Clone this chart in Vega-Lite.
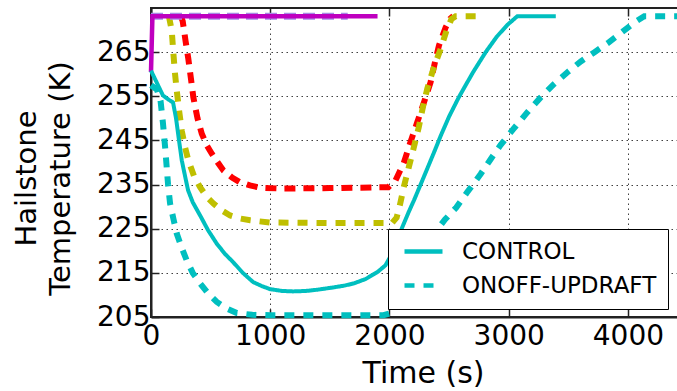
{
  "$schema": "https://vega.github.io/schema/vega-lite/v6.json",
  "width": 527,
  "height": 309,
  "autosize": "none",
  "padding": {"left": 151, "top": 8, "right": 0, "bottom": 74},
  "background": "white",
  "config": {
    "font": "DejaVu Sans",
    "view": {"stroke": "#222", "strokeWidth": 2},
    "axis": {
      "domainColor": "#222", "domainWidth": 2,
      "tickColor": "#222", "tickWidth": 1.5, "tickSize": -8,
      "labelFont": "DejaVu Sans", "labelFontSize": 28, "labelColor": "black",
      "labelFlush": false, "labelOverlap": false,
      "titleFont": "DejaVu Sans", "titleColor": "black", "titleFontWeight": "normal",
      "gridColor": "black", "gridDash": [1.5, 3.5], "gridWidth": 1, "gridOpacity": 0.75
    },
    "legend": {
      "symbolType": "stroke", "symbolSize": 1444, "symbolStrokeWidth": 4.5,
      "labelFont": "DejaVu Sans", "labelFontSize": 23, "labelColor": "black", "labelLimit": 0,
      "strokeColor": "black", "fillColor": "white", "padding": 11, "cornerRadius": 0,
      "rowPadding": 10, "clipHeight": 23, "labelOffset": 17, "symbolOffset": 3
    }
  },
  "data": {
    "values": [
      {"series": "CONTROL", "time": 0, "temp": 260.8},
      {"series": "CONTROL", "time": 50, "temp": 258},
      {"series": "CONTROL", "time": 100, "temp": 255.2},
      {"series": "CONTROL", "time": 150, "temp": 254.2},
      {"series": "CONTROL", "time": 185, "temp": 253.6},
      {"series": "CONTROL", "time": 210, "temp": 250},
      {"series": "CONTROL", "time": 235, "temp": 245},
      {"series": "CONTROL", "time": 258, "temp": 240.5},
      {"series": "CONTROL", "time": 285, "temp": 237},
      {"series": "CONTROL", "time": 311, "temp": 233.7},
      {"series": "CONTROL", "time": 350, "temp": 231},
      {"series": "CONTROL", "time": 412, "temp": 228},
      {"series": "CONTROL", "time": 480, "temp": 224.6},
      {"series": "CONTROL", "time": 552, "temp": 221.6},
      {"series": "CONTROL", "time": 620, "temp": 219.3},
      {"series": "CONTROL", "time": 690, "temp": 217.4},
      {"series": "CONTROL", "time": 770, "temp": 215},
      {"series": "CONTROL", "time": 857, "temp": 212.9},
      {"series": "CONTROL", "time": 930, "temp": 212},
      {"series": "CONTROL", "time": 1000, "temp": 211.3},
      {"series": "CONTROL", "time": 1100, "temp": 210.9},
      {"series": "CONTROL", "time": 1193, "temp": 210.8},
      {"series": "CONTROL", "time": 1300, "temp": 210.9},
      {"series": "CONTROL", "time": 1400, "temp": 211.2},
      {"series": "CONTROL", "time": 1529, "temp": 211.7},
      {"series": "CONTROL", "time": 1620, "temp": 212.1},
      {"series": "CONTROL", "time": 1700, "temp": 212.6},
      {"series": "CONTROL", "time": 1800, "temp": 213.6},
      {"series": "CONTROL", "time": 1900, "temp": 215.2},
      {"series": "CONTROL", "time": 1966, "temp": 216.7},
      {"series": "CONTROL", "time": 2010, "temp": 218.8},
      {"series": "CONTROL", "time": 2060, "temp": 222.1},
      {"series": "CONTROL", "time": 2110, "temp": 225.5},
      {"series": "CONTROL", "time": 2160, "temp": 228.7},
      {"series": "CONTROL", "time": 2205, "temp": 231.4},
      {"series": "CONTROL", "time": 2300, "temp": 237.5},
      {"series": "CONTROL", "time": 2383, "temp": 242.9},
      {"series": "CONTROL", "time": 2429, "temp": 246},
      {"series": "CONTROL", "time": 2500, "temp": 250.4},
      {"series": "CONTROL", "time": 2582, "temp": 254.8},
      {"series": "CONTROL", "time": 2700, "temp": 260.4},
      {"series": "CONTROL", "time": 2807, "temp": 265},
      {"series": "CONTROL", "time": 2900, "temp": 268.5},
      {"series": "CONTROL", "time": 2990, "temp": 271.2},
      {"series": "CONTROL", "time": 3073, "temp": 273.15},
      {"series": "CONTROL", "time": 3395, "temp": 273.15},

      {"series": "ONOFF-UPDRAFT", "time": 0, "temp": 257.5},
      {"series": "ONOFF-UPDRAFT", "time": 50, "temp": 256.5},
      {"series": "ONOFF-UPDRAFT", "time": 80, "temp": 254},
      {"series": "ONOFF-UPDRAFT", "time": 100, "temp": 249},
      {"series": "ONOFF-UPDRAFT", "time": 120, "temp": 243},
      {"series": "ONOFF-UPDRAFT", "time": 143, "temp": 235},
      {"series": "ONOFF-UPDRAFT", "time": 160, "temp": 230.7},
      {"series": "ONOFF-UPDRAFT", "time": 190, "temp": 227},
      {"series": "ONOFF-UPDRAFT", "time": 216, "temp": 223.9},
      {"series": "ONOFF-UPDRAFT", "time": 260, "temp": 220.5},
      {"series": "ONOFF-UPDRAFT", "time": 300, "temp": 217.8},
      {"series": "ONOFF-UPDRAFT", "time": 350, "temp": 215},
      {"series": "ONOFF-UPDRAFT", "time": 412, "temp": 212.6},
      {"series": "ONOFF-UPDRAFT", "time": 480, "temp": 210.3},
      {"series": "ONOFF-UPDRAFT", "time": 552, "temp": 208.4},
      {"series": "ONOFF-UPDRAFT", "time": 630, "temp": 207},
      {"series": "ONOFF-UPDRAFT", "time": 720, "temp": 205.9},
      {"series": "ONOFF-UPDRAFT", "time": 850, "temp": 205.5},
      {"series": "ONOFF-UPDRAFT", "time": 1000, "temp": 205.4},
      {"series": "ONOFF-UPDRAFT", "time": 1500, "temp": 205.4},
      {"series": "ONOFF-UPDRAFT", "time": 1950, "temp": 205.4},
      {"series": "ONOFF-UPDRAFT", "time": 2000, "temp": 205.8},
      {"series": "ONOFF-UPDRAFT", "time": 2036, "temp": 207.2},
      {"series": "ONOFF-UPDRAFT", "time": 2072, "temp": 209},
      {"series": "ONOFF-UPDRAFT", "time": 2150, "temp": 213.5},
      {"series": "ONOFF-UPDRAFT", "time": 2250, "temp": 218.5},
      {"series": "ONOFF-UPDRAFT", "time": 2350, "temp": 223},
      {"series": "ONOFF-UPDRAFT", "time": 2466, "temp": 227.1},
      {"series": "ONOFF-UPDRAFT", "time": 2560, "temp": 229.8},
      {"series": "ONOFF-UPDRAFT", "time": 2653, "temp": 233.3},
      {"series": "ONOFF-UPDRAFT", "time": 2765, "temp": 237.4},
      {"series": "ONOFF-UPDRAFT", "time": 2850, "temp": 240.8},
      {"series": "ONOFF-UPDRAFT", "time": 2933, "temp": 244},
      {"series": "ONOFF-UPDRAFT", "time": 3040, "temp": 247.6},
      {"series": "ONOFF-UPDRAFT", "time": 3157, "temp": 251.4},
      {"series": "ONOFF-UPDRAFT", "time": 3270, "temp": 254.8},
      {"series": "ONOFF-UPDRAFT", "time": 3381, "temp": 257.8},
      {"series": "ONOFF-UPDRAFT", "time": 3500, "temp": 260.6},
      {"series": "ONOFF-UPDRAFT", "time": 3605, "temp": 262.9},
      {"series": "ONOFF-UPDRAFT", "time": 3720, "temp": 265},
      {"series": "ONOFF-UPDRAFT", "time": 3829, "temp": 267},
      {"series": "ONOFF-UPDRAFT", "time": 3940, "temp": 269.3},
      {"series": "ONOFF-UPDRAFT", "time": 4053, "temp": 271.7},
      {"series": "ONOFF-UPDRAFT", "time": 4137, "temp": 273.15},
      {"series": "ONOFF-UPDRAFT", "time": 4450, "temp": 273.15},

      {"series": "r-dash", "time": 250, "temp": 273.15},
      {"series": "r-dash", "time": 266, "temp": 272},
      {"series": "r-dash", "time": 290, "temp": 267.5},
      {"series": "r-dash", "time": 313, "temp": 263.5},
      {"series": "r-dash", "time": 335, "temp": 259},
      {"series": "r-dash", "time": 355, "temp": 254.8},
      {"series": "r-dash", "time": 390, "temp": 250},
      {"series": "r-dash", "time": 426, "temp": 246.5},
      {"series": "r-dash", "time": 470, "temp": 243.8},
      {"series": "r-dash", "time": 510, "temp": 242},
      {"series": "r-dash", "time": 560, "temp": 240},
      {"series": "r-dash", "time": 607, "temp": 238.2},
      {"series": "r-dash", "time": 680, "temp": 236.6},
      {"series": "r-dash", "time": 748, "temp": 235.5},
      {"series": "r-dash", "time": 830, "temp": 234.8},
      {"series": "r-dash", "time": 916, "temp": 234.3},
      {"series": "r-dash", "time": 1084, "temp": 234.1},
      {"series": "r-dash", "time": 1500, "temp": 234.2},
      {"series": "r-dash", "time": 1990, "temp": 234.4},
      {"series": "r-dash", "time": 2050, "temp": 235.9},
      {"series": "r-dash", "time": 2120, "temp": 239.9},
      {"series": "r-dash", "time": 2176, "temp": 244.6},
      {"series": "r-dash", "time": 2233, "temp": 249.1},
      {"series": "r-dash", "time": 2289, "temp": 253.6},
      {"series": "r-dash", "time": 2345, "temp": 258.2},
      {"series": "r-dash", "time": 2380, "temp": 262.5},
      {"series": "r-dash", "time": 2415, "temp": 266.5},
      {"series": "r-dash", "time": 2471, "temp": 270.6},
      {"series": "r-dash", "time": 2510, "temp": 272.6},
      {"series": "r-dash", "time": 2535, "temp": 273.15},

      {"series": "y-dash", "time": 150, "temp": 273.15},
      {"series": "y-dash", "time": 174, "temp": 269.9},
      {"series": "y-dash", "time": 187, "temp": 265},
      {"series": "y-dash", "time": 200, "temp": 260.5},
      {"series": "y-dash", "time": 216, "temp": 256.3},
      {"series": "y-dash", "time": 237, "temp": 251.5},
      {"series": "y-dash", "time": 258, "temp": 247.2},
      {"series": "y-dash", "time": 285, "temp": 243.5},
      {"series": "y-dash", "time": 313, "temp": 240.5},
      {"series": "y-dash", "time": 360, "temp": 237},
      {"series": "y-dash", "time": 412, "temp": 234.4},
      {"series": "y-dash", "time": 465, "temp": 232.3},
      {"series": "y-dash", "time": 524, "temp": 230.7},
      {"series": "y-dash", "time": 590, "temp": 229.2},
      {"series": "y-dash", "time": 664, "temp": 228},
      {"series": "y-dash", "time": 750, "temp": 227.3},
      {"series": "y-dash", "time": 832, "temp": 226.9},
      {"series": "y-dash", "time": 1000, "temp": 226.4},
      {"series": "y-dash", "time": 1500, "temp": 226.3},
      {"series": "y-dash", "time": 2022, "temp": 226.3},
      {"series": "y-dash", "time": 2060, "temp": 227.5},
      {"series": "y-dash", "time": 2087, "temp": 230.3},
      {"series": "y-dash", "time": 2120, "temp": 234.4},
      {"series": "y-dash", "time": 2162, "temp": 238.9},
      {"series": "y-dash", "time": 2205, "temp": 243.5},
      {"series": "y-dash", "time": 2246, "temp": 248},
      {"series": "y-dash", "time": 2280, "temp": 252.5},
      {"series": "y-dash", "time": 2317, "temp": 256.7},
      {"series": "y-dash", "time": 2373, "temp": 261.6},
      {"series": "y-dash", "time": 2429, "temp": 265.7},
      {"series": "y-dash", "time": 2479, "temp": 269.9},
      {"series": "y-dash", "time": 2520, "temp": 272.5},
      {"series": "y-dash", "time": 2555, "temp": 273.15},
      {"series": "y-dash", "time": 2723, "temp": 273.15},

      {"series": "m-dash", "time": 0, "temp": 273.15},
      {"series": "m-dash", "time": 1650, "temp": 273.15},

      {"series": "m-solid", "time": 0, "temp": 260.5},
      {"series": "m-solid", "time": 12, "temp": 273.15},
      {"series": "m-solid", "time": 1900, "temp": 273.15}
    ]
  },
  "encoding": {
    "x": {"field": "time", "type": "quantitative", "scale": {"domain": [0, 4420], "nice": false, "zero": false}, "axis": null},
    "y": {
      "field": "temp", "type": "quantitative",
      "scale": {"domain": [205, 275], "nice": false, "zero": false},
      "axis": {
        "values": [205, 215, 225, 235, 245, 255, 265],
        "grid": true, "labelPadding": 9,
        "title": ["Hailstone", "Temperature (K)"],
        "titleFontSize": 29, "titleLineHeight": 34,
        "titleAngle": -90, "titleX": -139, "titleY": 170,
        "titleAlign": "center", "titleBaseline": "top"
      }
    },
    "color": {
      "field": "series", "type": "nominal",
      "scale": {
        "domain": ["CONTROL", "ONOFF-UPDRAFT", "r-dash", "y-dash", "m-dash", "m-solid"],
        "range": ["#00bfbf", "#00bfbf", "#ff0000", "#bfbf00", "#a58be6", "#bf00bf"]
      },
      "legend": {"values": ["CONTROL", "ONOFF-UPDRAFT"], "title": null, "orient": "none", "legendX": 237, "legendY": 221}
    },
    "strokeDash": {
      "field": "series", "type": "nominal",
      "scale": {
        "domain": ["CONTROL", "ONOFF-UPDRAFT", "r-dash", "y-dash", "m-dash", "m-solid"],
        "range": [[1, 0], [10, 9], [11, 8], [10, 9], [12, 7], [1, 0]]
      },
      "legend": {"values": ["CONTROL", "ONOFF-UPDRAFT"], "title": null, "orient": "none", "legendX": 237, "legendY": 221}
    }
  },
  "layer": [
    {
      "transform": [{"filter": "datum.series === 'r-dash'"}],
      "mark": {"type": "line", "strokeWidth": 6, "strokeCap": "butt"},
      "encoding": {
        "x": {
          "field": "time", "type": "quantitative",
          "scale": {"domain": [0, 4420], "nice": false, "zero": false},
          "axis": {
            "values": [0, 1000, 2000, 3000, 4000], "format": "d",
            "grid": true, "labelPadding": 13,
            "title": "Time (s)", "titleFontSize": 30,
            "titleX": 272, "titleY": 41, "titleAlign": "center", "titleBaseline": "top"
          }
        }
      }
    },
    {
      "transform": [{"filter": "datum.series === 'y-dash'"}],
      "mark": {"type": "line", "strokeWidth": 6, "strokeCap": "butt"}
    },
    {
      "transform": [{"filter": "datum.series === 'm-dash'"}],
      "mark": {"type": "line", "strokeWidth": 7, "strokeCap": "butt"}
    },
    {
      "transform": [{"filter": "datum.series === 'm-solid'"}],
      "mark": {"type": "line", "strokeWidth": 4.5, "strokeCap": "butt"}
    },
    {
      "transform": [{"filter": "datum.series === 'ONOFF-UPDRAFT'"}],
      "mark": {"type": "line", "strokeWidth": 6, "strokeCap": "butt"}
    },
    {
      "transform": [{"filter": "datum.series === 'CONTROL'"}],
      "mark": {"type": "line", "strokeWidth": 4, "strokeCap": "butt"},
      "encoding": {
        "x": {
          "field": "time", "type": "quantitative",
          "scale": {"domain": [0, 4420], "nice": false, "zero": false},
          "axis": {
            "orient": "top", "values": [0, 1000, 2000, 3000, 4000],
            "labels": false, "domain": false, "grid": false, "title": null
          }
        }
      }
    }
  ],
  "resolve": {"axis": {"x": "independent"}}
}
